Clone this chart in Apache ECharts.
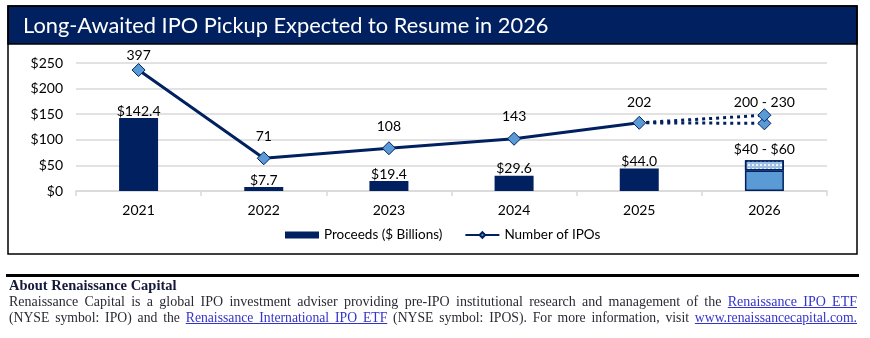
<!DOCTYPE html>
<html>
<head>
<meta charset="utf-8">
<script src="https://cdn.jsdelivr.net/npm/echarts@6/dist/echarts.min.js"></script>
<style>
  html, body { margin: 0; padding: 0; background: #fff; }
  #wrap { position: relative; width: 870px; height: 338px; overflow: hidden; }
  #chart { position: absolute; left: 0; top: 0; width: 870px; height: 338px; }
  #rule { position: absolute; left: 6px; top: 274px; width: 853px; height: 2.5px; background: #000; }
  #footer { position: absolute; left: 9px; top: 277px; width: 848px; font-family: "Liberation Serif", serif; font-size: 14px; line-height: 16.5px; color: #2a2a35; }
  #footer .h { font-weight: bold; color: #14183a; font-size: 14.5px; }
  #footer .l { text-align: justify; text-align-last: justify; white-space: normal; }
  #footer a { color: #3333cc; text-decoration: underline; }
</style>
</head>
<body>
<div id="wrap">
  <div id="chart"></div>
  <div id="rule"></div>
  <div id="footer">
    <div class="h">About Renaissance Capital</div>
    <div class="l">Renaissance Capital is a global IPO investment adviser providing pre-IPO institutional research and management of the <a>Renaissance IPO ETF</a></div>
    <div class="l" style="font-size:13.7px">(NYSE symbol: IPO) and the <a>Renaissance International IPO ETF</a> (NYSE symbol: IPOS). For more information, visit <a>www.renaissancecapital.com.</a></div>
  </div>
</div>
<script>
const titleText = 'Long-Awaited IPO Pickup Expected to Resume in 2026';
const years = ['2021', '2022', '2023', '2024', '2025', '2026'];
const proceeds = [142.4, 7.7, 19.4, 29.6, 44.0, 40];
const proceedsLabels = ['$142.4', '$7.7', '$19.4', '$29.6', '$44.0', ''];
const proceedsRange2026 = [null, null, null, null, null, 20];
const rangeLabel2026 = '$40 - $60';
const ipoCounts = [397, 71, 108, 143, 202, null];
const ipoLow2026 = [null, null, null, null, 202, 200];
const ipoHigh2026 = [null, null, null, null, 202, 230];
const ipoRangeLabel = '200 - 230';
const yTicks = [0, 50, 100, 150, 200, 250];

const NAVY = '#002060';
const LIGHT = '#5B9BD5';
const FONT = 'Lato, "Noto Sans", sans-serif';

const chart = echarts.init(document.getElementById('chart'));

const proceedsData = proceeds.map((v, i) => {
  if (i === 5) {
    return { value: v, itemStyle: { color: LIGHT, borderColor: NAVY, borderWidth: 1.5 }, label: { show: false } };
  }
  return { value: v };
});

const diamond = { color: LIGHT, borderColor: NAVY, borderWidth: 1 };

chart.setOption({
  animation: false,
  textStyle: { fontFamily: FONT },
  graphic: [
    { type: 'rect', shape: { x: 8, y: 6, width: 849, height: 248 }, style: { fill: 'none', stroke: '#000', lineWidth: 1.5 }, z: 100 },
    { type: 'rect', shape: { x: 8, y: 6, width: 849, height: 38 }, style: { fill: NAVY, stroke: '#000', lineWidth: 1.5 }, z: 99 },
    { type: 'text', x: 23, y: 25.5, style: { text: titleText, fill: '#fff', font: '21.8px ' + FONT, textVerticalAlign: 'middle' }, z: 101 }
  ],
  grid: { left: 76, right: 43, top: 63, bottom: 147 },
  legend: {
    left: 280, top: 223,
    itemWidth: 34, itemHeight: 7, itemGap: 22,
    textStyle: { fontSize: 13.5, color: '#000', fontFamily: FONT },
    data: [
      { name: 'Proceeds ($ Billions)', icon: 'rect' },
      { name: 'Number of IPOs' }
    ]
  },
  xAxis: {
    type: 'category', data: years,
    axisLine: { lineStyle: { color: '#d9d9d9', width: 1.5 } },
    axisTick: { show: true, length: 5, lineStyle: { color: '#d9d9d9', width: 1.5 } },
    axisLabel: { fontSize: 14, color: '#000', margin: 12, fontFamily: FONT }
  },
  yAxis: [
    {
      type: 'value', min: yTicks[0], max: yTicks[yTicks.length - 1], interval: 50,
      axisLine: { show: false }, axisTick: { show: false },
      splitLine: { lineStyle: { color: '#d9d9d9', width: 1.5 } },
      axisLabel: { fontSize: 14, color: '#000', margin: 13, formatter: v => '$' + v, fontFamily: FONT }
    },
    { type: 'value', min: -50, max: 423, show: false, splitLine: { show: false } }
  ],
  series: [
    {
      name: 'Proceeds ($ Billions)', type: 'bar', stack: 'p', barWidth: 39,
      itemStyle: { color: NAVY },
      label: { show: true, position: 'top', distance: 0, fontSize: 14, color: '#000', fontFamily: FONT,
        formatter: p => proceedsLabels[p.dataIndex] },
      data: proceedsData, z: 2
    },
    {
      name: 'range', type: 'bar', stack: 'p', barWidth: 39,
      itemStyle: {
        color: '#9DBFE4', borderColor: NAVY, borderWidth: 1.5,
        decal: { symbol: 'rect', symbolSize: 1, color: 'rgba(255,255,255,0.85)', dashArrayX: [1.5, 1.5], dashArrayY: [1.5, 1.5] }
      },
      label: { show: true, position: 'top', distance: 4, fontSize: 14, color: '#000', fontFamily: FONT, formatter: () => rangeLabel2026 },
      data: proceedsRange2026, z: 2
    },
    {
      name: 'Number of IPOs', type: 'line', yAxisIndex: 1,
      lineStyle: { color: NAVY, width: 3 },
      itemStyle: diamond,
      symbol: 'diamond', symbolSize: 13,
      label: { show: true, position: 'top', distance: 8, fontSize: 14, color: '#000', fontFamily: FONT },
      data: ipoCounts.map((v, i) => i === 0 ? { value: v, label: { distance: 1 } } : (i === 4 ? { value: v, label: { distance: 6 } } : v)),
      z: 5
    },
    {
      name: 'low', type: 'line', yAxisIndex: 1,
      lineStyle: { color: NAVY, width: 3, type: [3, 4] },
      itemStyle: diamond, symbol: 'diamond', symbolSize: 13,
      data: ipoLow2026.map((v, i) => i === 4 ? { value: v, symbol: 'none' } : v),
      z: 4
    },
    {
      name: 'high', type: 'line', yAxisIndex: 1,
      lineStyle: { color: NAVY, width: 3, type: [3, 4] },
      itemStyle: diamond, symbol: 'diamond', symbolSize: 13,
      label: { show: true, position: 'top', distance: -1, fontSize: 14, color: '#000', fontFamily: FONT,
        formatter: p => p.dataIndex === 5 ? ipoRangeLabel : '' },
      data: ipoHigh2026.map((v, i) => i === 4 ? { value: v, symbol: 'none' } : v),
      z: 4
    }
  ]
});
</script>
</body>
</html>
